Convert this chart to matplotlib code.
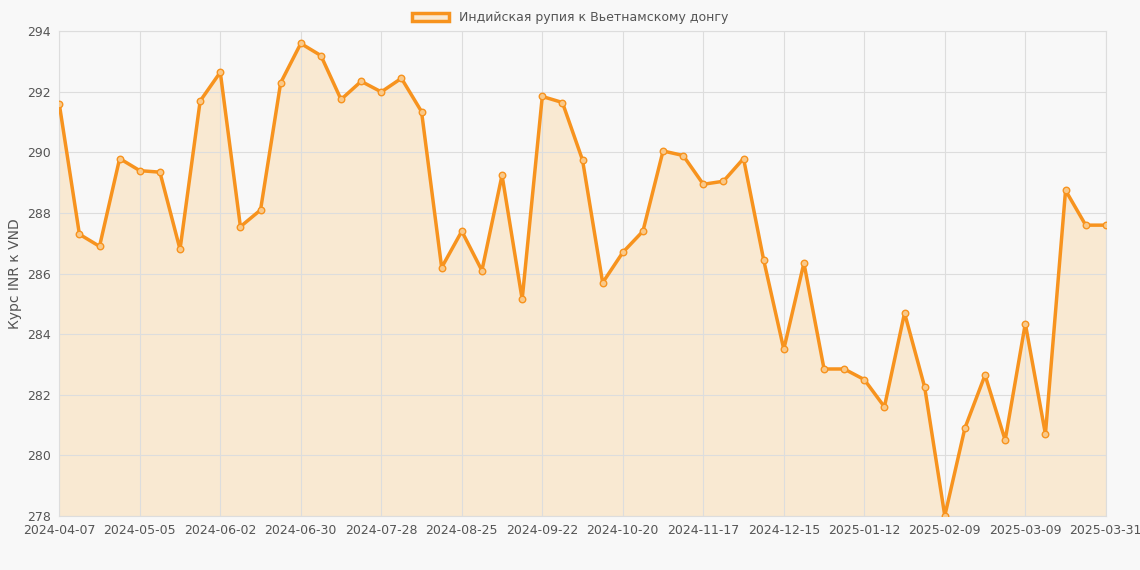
import matplotlib
matplotlib.use("Agg")
import matplotlib.pyplot as plt
import matplotlib.patches as mpatches
import datetime as dt

dates = [(dt.date(2024,4,7)+dt.timedelta(weeks=i)).isoformat() for i in range(52)] + ["2025-03-31"]
values = [291.6,287.3,286.9,289.8,289.4,289.35,286.8,291.7,292.65,287.55,288.1,292.3,293.6,293.2,
          291.75,292.35,292.0,292.45,291.35,286.2,287.4,286.1,289.25,285.15,291.85,291.65,289.75,
          285.7,286.7,287.4,290.05,289.9,288.95,289.05,289.8,286.45,283.5,286.35,282.85,282.85,
          282.5,281.6,284.7,282.25,278.0,280.9,282.65,280.5,284.35,280.7,288.75,287.6,287.6]
label = "Индийская рупия к Вьетнамскому донгу"
ylabel = "Курс INR к VND"

fig = plt.figure(figsize=(11.4,5.7), dpi=100, facecolor="#f8f8f8")
ax = fig.add_axes([0.052, 0.095, 0.918, 0.85])
ax.set_facecolor("#f8f8f8")
x = list(range(len(values)))
col = "#f7931e"
ax.fill_between(x, values, 278, color="#f9e9d2", zorder=1)
ax.plot(x, values, color=col, lw=2.5, zorder=3)
ax.scatter(x, values, s=22, facecolor="#f9c98a", edgecolor=col, lw=1, zorder=4)
ax.set_xlim(0, len(values)-1)
ax.set_ylim(278, 294)
ax.set_yticks(range(278, 295, 2))
ticks = list(range(0, 52, 4)) + [52]
ax.set_xticks(ticks)
ax.set_xticklabels([dates[i] for i in ticks])
ax.grid(color="#dddddd", lw=0.8)
for s in ax.spines.values():
    s.set_color("#dddddd")
ax.tick_params(colors="#555555", labelsize=9, length=0, pad=6)
ax.set_ylabel(ylabel, color="#555555", fontsize=10)
h = mpatches.Patch(facecolor="#f9e9d2", edgecolor=col, lw=2.5, label=label)
fig.legend(handles=[h], loc="upper center", bbox_to_anchor=(0.5, 1.0), frameon=False,
           fontsize=9, labelcolor="#555555", handlelength=3)
fig.savefig("out.png", facecolor=fig.get_facecolor())
